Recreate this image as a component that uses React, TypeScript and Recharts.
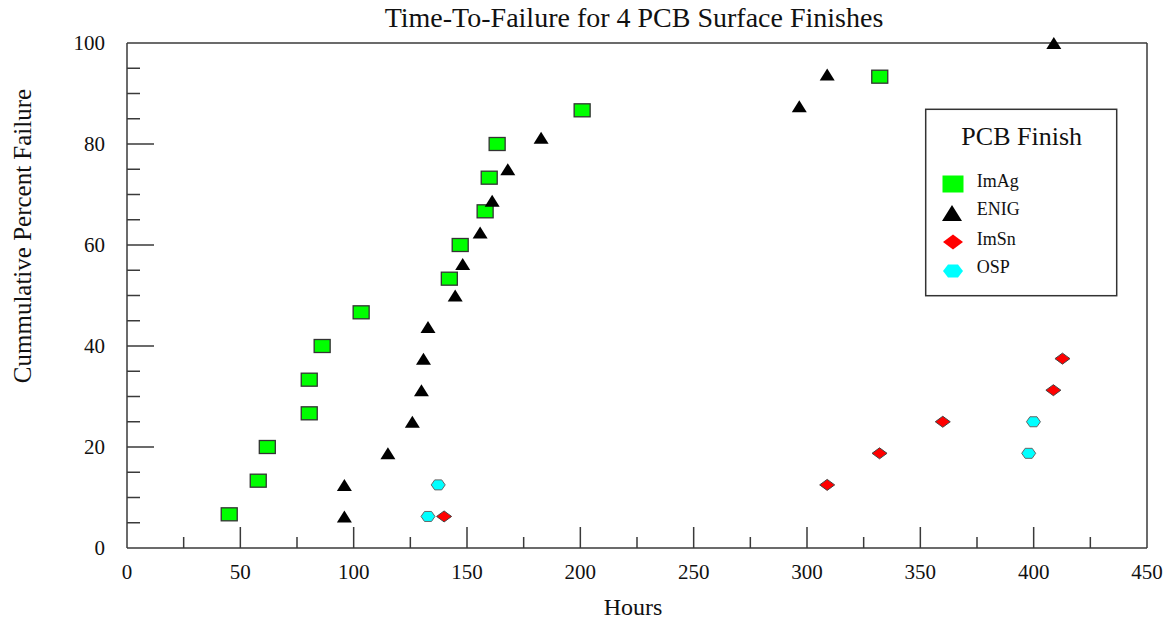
import { ScatterChart, Scatter, XAxis, YAxis, ReferenceLine } from "recharts";

// hours to failure; percent is cumulative failure
const imAgHours = [45.1, 57.9, 61.9, 80.4, 80.4, 86.1, 103.3, 142.2, 147.0, 158.0, 159.8, 163.3, 200.8, 332.1];
const imAgPct = [6.67, 13.33, 20, 26.67, 33.33, 40, 46.67, 53.33, 60, 66.67, 73.33, 80, 86.67, 93.33];

const enigHours = [95.9, 95.9, 115.1, 125.9, 129.9, 130.8, 132.8, 144.8, 148.1, 155.8, 161.1, 168.0, 182.7, 296.6, 308.9, 408.9];
const enigPct = [6.25, 12.5, 18.75, 25, 31.25, 37.5, 43.75, 50, 56.25, 62.5, 68.75, 75, 81.25, 87.5, 93.75, 100];

const imSnHours = [139.9, 308.9, 332.0, 359.9, 408.7, 412.7];
const imSnPct = [6.25, 12.5, 18.75, 25, 31.25, 37.5];

const ospHours = [132.8, 137.3, 397.8, 399.9];
const ospPct = [6.25, 12.5, 18.75, 25];

const xTicks = [0, 25, 50, 75, 100, 125, 150, 175, 200, 225, 250, 275, 300, 325, 350, 375, 400, 425, 450];
const xLabelTicks = [0, 50, 100, 150, 200, 250, 300, 350, 400, 450];
const yTicks = [0, 5, 10, 15, 20, 25, 30, 35, 40, 45, 50, 55, 60, 65, 70, 75, 80, 85, 90, 95, 100];
const yLabelTicks = [0, 20, 40, 60, 80, 100];

const FONT = '"Liberation Serif", "Times New Roman", serif';
const AXIS = "#3a3a3a";

const toPoints = (xs: number[], ys: number[]) => xs.map((x, i) => ({ x, y: ys[i] }));

const Square = ({ cx, cy }: any) => (
  <rect x={cx - 8} y={cy - 6.5} width={16} height={13} fill="#00ff00" stroke="#333" strokeWidth={1.3} />
);
const Triangle = ({ cx, cy }: any) => (
  <polygon points={`${cx},${cy - 6} ${cx + 7.5},${cy + 6} ${cx - 7.5},${cy + 6}`} fill="#000" />
);
const Diamond = ({ cx, cy }: any) => (
  <polygon points={`${cx},${cy - 5.5} ${cx + 7.5},${cy} ${cx},${cy + 5.5} ${cx - 7.5},${cy}`} fill="#ff0000" stroke="#444" strokeWidth={1} />
);
const Hexagon = ({ cx, cy }: any) => (
  <polygon
    points={`${cx - 7},${cy} ${cx - 3.5},${cy - 5} ${cx + 3.5},${cy - 5} ${cx + 7},${cy} ${cx + 3.5},${cy + 5} ${cx - 3.5},${cy + 5}`}
    fill="#00ffff"
    stroke="#666"
    strokeWidth={1}
  />
);

const XTick = ({ x, y, payload }: any) => {
  const major = xLabelTicks.includes(payload.value);
  return (
    <g>
      {payload.value !== 0 && payload.value !== 450 && (
        <line x1={x} x2={x} y1={y} y2={y - (major ? 21 : 11)} stroke={AXIS} strokeWidth={1.5} />
      )}
      {major && (
        <text x={x} y={y + 31} textAnchor="middle" fontFamily={FONT} fontSize={21} fill="#111">
          {payload.value}
        </text>
      )}
    </g>
  );
};

const YTick = ({ x, y, payload }: any) => {
  const major = yLabelTicks.includes(payload.value);
  return (
    <g>
      {payload.value !== 0 && payload.value !== 100 && (
        <line x1={x} x2={x + (major ? 27 : 13)} y1={y} y2={y} stroke={AXIS} strokeWidth={1.5} />
      )}
      {major && (
        <text x={x - 22} y={y} dy="0.35em" textAnchor="end" fontFamily={FONT} fontSize={21} fill="#111">
          {payload.value}
        </text>
      )}
    </g>
  );
};

const legendItems = [
  { name: "ImAg", Shape: () => <rect x={942.5} y={175.5} width={21} height={17} fill="#00ff00" /> },
  { name: "ENIG", Shape: () => <polygon points="952,205 962,221 942,221" fill="#000" /> },
  { name: "ImSn", Shape: () => <polygon points="953,234.5 963,242 953,249.5 943,242" fill="#ff0000" /> },
  { name: "OSP", Shape: () => <polygon points="943,271 948,264.5 958,264.5 963,271 958,277.5 948,277.5" fill="#00ffff" /> },
];
const legendBaselines = [186.7, 215, 245, 273.3];

export default function App() {
  // shift by the body margin so the svg sits at the page origin
  return (
    <div style={{ position: "relative", left: -8, top: -8, width: 1171, height: 624 }}>
      <ScatterChart width={1171} height={624} margin={{ top: 43, right: 24, left: 0, bottom: 0 }}>
        <XAxis
          type="number"
          dataKey="x"
          domain={[0, 450]}
          ticks={xTicks}
          interval={0}
          tickSize={0}
          tickMargin={0}
          tickLine={false}
          axisLine={{ stroke: AXIS, strokeWidth: 1.5 }}
          tick={<XTick />}
          height={76}
        />
        <YAxis
          type="number"
          dataKey="y"
          domain={[0, 100]}
          ticks={yTicks}
          interval={0}
          tickSize={0}
          tickMargin={0}
          tickLine={false}
          axisLine={{ stroke: AXIS, strokeWidth: 1.5 }}
          tick={<YTick />}
          width={127}
        />
        <ReferenceLine y={100} stroke={AXIS} strokeWidth={1.5} />
        <ReferenceLine x={450} stroke={AXIS} strokeWidth={1.5} />
        <Scatter name="ImAg" data={toPoints(imAgHours, imAgPct)} shape={<Square />} isAnimationActive={false} />
        <Scatter name="ENIG" data={toPoints(enigHours, enigPct)} shape={<Triangle />} isAnimationActive={false} />
        <Scatter name="ImSn" data={toPoints(imSnHours, imSnPct)} shape={<Diamond />} isAnimationActive={false} />
        <Scatter name="OSP" data={toPoints(ospHours, ospPct)} shape={<Hexagon />} isAnimationActive={false} />

        <text x={634} y={27} textAnchor="middle" fontFamily={FONT} fontSize={28} fill="#111">
          Time-To-Failure for 4 PCB Surface Finishes
        </text>
        <text x={633} y={615} textAnchor="middle" fontFamily={FONT} fontSize={24} fill="#111">
          Hours
        </text>
        <text
          x={22}
          y={236}
          textAnchor="middle"
          dy="0.35em"
          transform="rotate(-90 22 236)"
          fontFamily={FONT}
          fontSize={25}
          fill="#111"
        >
          Cummulative Percent Failure
        </text>

        <g>
          <rect x={925.7} y={109.3} width={191} height={186.4} fill="#fff" stroke="#333" strokeWidth={1.5} />
          <text x={1021.7} y={145} textAnchor="middle" fontFamily={FONT} fontSize={26} fill="#111">
            PCB Finish
          </text>
          {legendItems.map((it, i) => (
            <g key={it.name}>
              <it.Shape />
              <text x={976.7} y={legendBaselines[i]} fontFamily={FONT} fontSize={18} fill="#111">
                {it.name}
              </text>
            </g>
          ))}
        </g>
      </ScatterChart>
    </div>
  );
}
